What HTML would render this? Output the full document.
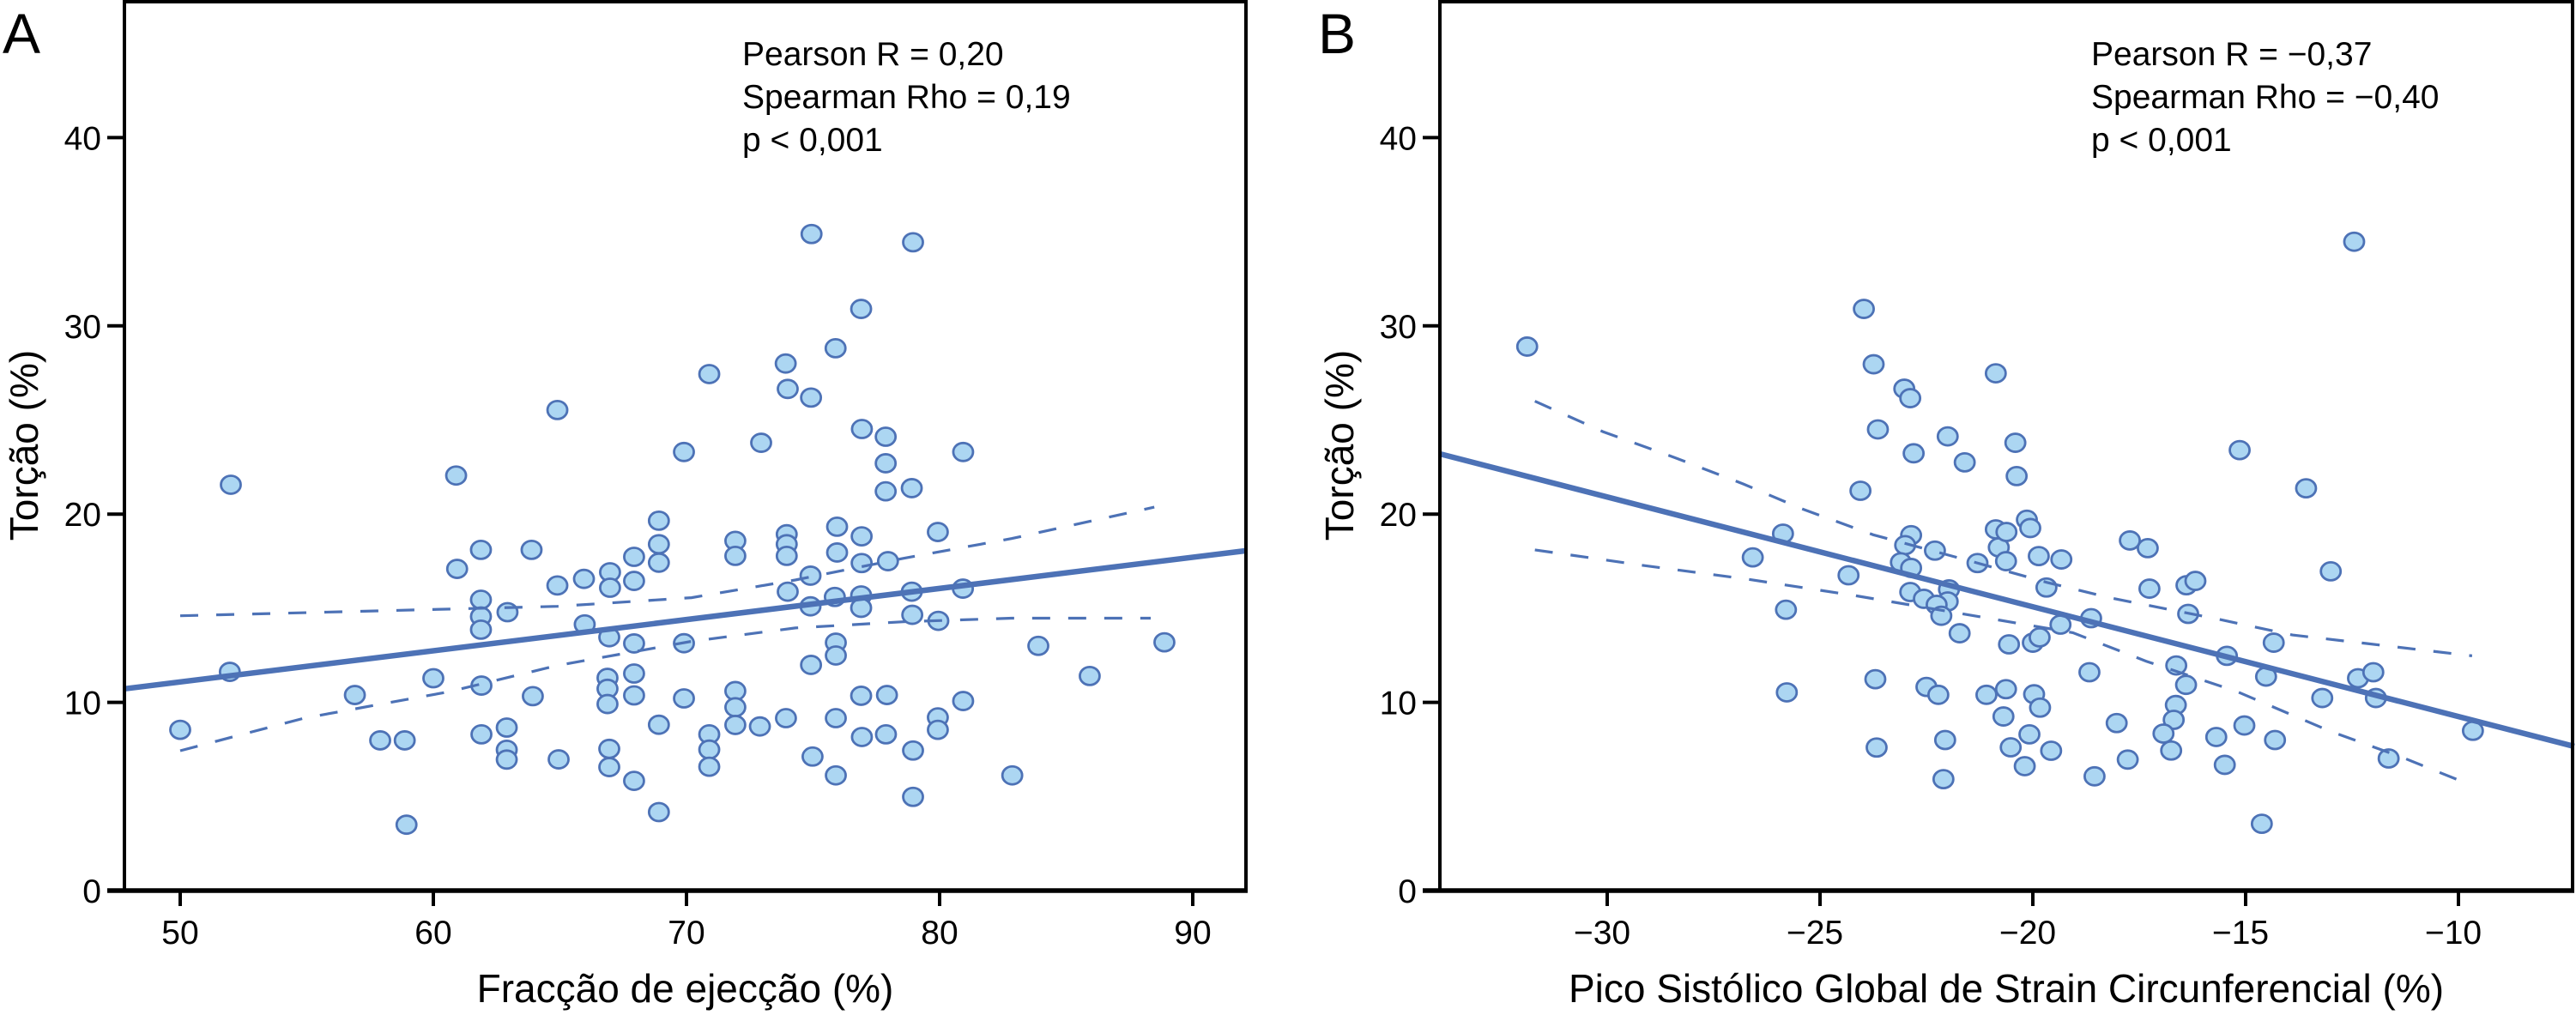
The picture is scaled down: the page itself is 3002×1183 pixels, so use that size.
<!DOCTYPE html>
<html><head><meta charset="utf-8">
<style>
html,body{margin:0;padding:0;background:#fff;}
svg{display:block;font-family:"Liberation Sans",Arial,sans-serif;}
</style></head>
<body>
<svg id="chart" width="3002" height="1183" viewBox="0 0 3002 1183" xmlns="http://www.w3.org/2000/svg">
<rect width="3002" height="1183" fill="#fff"/>
<g id="panelA"></g>
<g id="panelB"></g>
</svg>
<script>
// ---- Panel A data: Fracção de ejecção vs Torção ----
const aEF = [52,64.9,60.9,69.9,51.96,50,56.9,57.9,58.87,58.94,60,60.94,61.88,61.88,61.88,61.88,61.9,61.9,62.93,62.9,62.9,62.9,63.88,63.93,64.9,64.95,65.95,65.98,66.98,66.98,66.95,66.88,66.88,66.88,66.95,66.95,67.93,67.93,67.93,67.93,67.93,67.93,68.91,68.91,68.91,68.91,68.91,69.9,69.9,
74.94,78.95,76.9,75.89,73.92,74.0,74.92,70.9,72.95,76.93,77.87,77.87,77.87,78.9,80.93,71.93,71.93,73.96,73.96,73.96,75.95,75.95,76.92,76.92,77.96,79.93,74.9,74.0,75.86,74.9,76.9,76.9,78.9,80.92,78.92,79.95,75.9,75.9,74.92,83.9,88.88,85.93,71.93,71.93,71.93,72.9,70.9,70.9,70.9,73.93,75.9,76.9,77.92,80.93,79.93,79.93,76.93,77.88,78.95,74.98,75.9,82.87,78.95];
const aTorsion = [21.56,25.53,22.05,23.3,11.62,8.54,10.39,7.98,7.98,3.5,11.28,17.09,18.1,15.45,14.56,13.86,10.89,8.3,14.79,8.66,7.48,6.96,18.1,10.33,16.21,6.97,16.56,14.14,16.91,16.09,13.46,11.3,10.72,9.91,7.53,6.56,17.73,16.45,13.13,11.53,10.37,5.83,19.65,18.4,17.42,8.81,4.17,13.14,10.21,
34.88,34.44,30.9,28.81,28.0,26.65,26.19,27.44,23.79,24.52,24.11,22.7,21.21,21.38,23.3,18.58,17.78,18.93,18.4,17.78,19.33,17.96,18.82,17.4,17.5,19.05,16.73,15.88,15.6,15.1,15.68,15.02,15.88,16.04,14.65,14.33,13.17,12.49,11.99,13.0,13.19,11.4,10.6,9.74,8.8,8.72,8.3,7.49,6.58,9.16,9.16,10.35,10.39,10.07,9.2,8.54,8.16,8.3,7.44,7.12,6.12,6.12,4.98];
const aFitX = [47.8, 92.07];
const aFitY = [10.72, 18.05];
const aCIUpperX = [50,57.78,64.9,70.2,74.3,78.56,82.84,88.48];
const aCIUpperY = [14.6,14.86,15.1,15.56,16.5,17.65,18.7,20.37];
const aCILowerX = [50,54.9,60.64,64.9,70.2,74.3,78.56,82.84,88.34];
const aCILowerY = [7.43,9.16,10.57,11.96,13.24,13.95,14.28,14.47,14.47];
const aXTicks = [50,60,70,80,90];
const aXTickLabels = ["50","60","70","80","90"];
const yTicks = [0,10,20,30,40];
const yTickLabels = ["0","10","20","30","40"];
const aStats = ["Pearson R = 0,20","Spearman Rho = 0,19","p < 0,001"];

// ---- Panel B data: Strain circunferencial vs Torção ----
const bStrain = [-31.88,-23.97,-23.74,-23.02,-22.88,-23.64,-22.0,-22.8,-21.6,-20.87,-24.05,-25.87,-26.58,-22.86,-23.0,-22.3,-23.1,-22.86,-24.33,-20.87,-20.8,-21.3,-21.97,-22.0,-22.88,-22.56,-22.26,-22.15,-21.72,-25.8,-23.7,-25.78,-22.5,-22.22,-21.09,-23.67,-22.06,-22.1,
-12.45,-20.41,-20.38,-15.14,-13.58,-20.14,-20.06,-20.62,-20.63,-17.72,-17.3,-19.86,-19.33,-13.0,-19.68,-17.26,-16.39,-16.18,-16.35,-18.63,-19.35,-20.56,-20.0,-19.84,-14.34,-15.44,-16.63,-14.52,-12.36,-12.0,-11.94,-13.2,-18.67,-20.63,-19.97,-19.83,-16.4,-16.64,-16.69,-20.69,-18.03,-16.93,-16.75,-20.08,-20.52,-19.57,-20.19,-15.69,-15.03,-14.31,-15.49,-17.77,-18.55,-14.62,-11.64,-9.66];
const bTorsion = [28.9,30.9,27.96,26.66,26.16,24.5,24.13,23.23,22.75,27.48,21.24,18.96,17.7,18.88,18.35,18.06,17.44,17.14,16.75,19.19,18.23,17.4,16.0,15.36,15.86,15.5,15.18,14.6,13.67,14.92,11.23,10.53,10.82,10.4,10.4,7.6,8.0,5.92,
34.47,23.79,22.02,23.4,21.37,19.7,19.26,19.05,17.5,18.6,18.19,17.77,17.59,16.96,16.1,16.04,16.22,16.45,14.7,14.47,14.13,13.08,13.17,13.45,13.17,12.47,11.96,11.37,11.28,11.6,10.23,10.23,11.6,10.7,10.43,9.72,10.93,9.86,9.07,9.25,8.9,8.34,7.44,8.3,7.61,7.43,6.61,8.16,8.77,8.0,6.68,6.96,6.07,3.55,7.02,8.49];
const bFitX = [-33.93, -7.28];
const bFitY = [23.2, 7.66];
const bCIUpperX = [-31.7,-30.1,-28.4,-26.8,-25.45,-23.75,-21.46,-19.67,-18.2,-15.6,-13.9,-12.18,-9.68];
const bCIUpperY = [26.0,24.38,22.99,21.6,20.3,18.9,17.5,16.37,15.56,14.4,13.58,13.13,12.47];
const bCILowerX = [-31.7,-29.2,-26.7,-24.2,-21.7,-19.06,-17.34,-15.2,-13.03,-11.3,-9.66];
const bCILowerY = [18.1,17.29,16.54,15.68,14.72,13.7,12.19,10.57,8.48,7.06,5.56];
const bXTicks = [-30,-25,-20,-15,-10];
const bXTickLabels = ["\u221230","\u221225","\u221220","\u221215","\u221210"];
const bStats = ["Pearson R = \u22120,37","Spearman Rho = \u22120,40","p < 0,001"];

const NS = "http://www.w3.org/2000/svg";
const BLUE = "#4d72b6";
const FILL = "#acd6f2";

function mk(tag, attrs, parent){
  const e = document.createElementNS(NS, tag);
  for (const k in attrs) e.setAttribute(k, attrs[k]);
  parent.appendChild(e);
  return e;
}
function yScale(v){ return 1038 - v * 21.94; }

function drawPanel(g, o){
  const xs = v => o.x0 + (v - o.t0) * o.ppu;
  for (let i = 0; i < o.px.length; i++){
    const c = mk("ellipse", {cx: xs(o.px[i]), cy: yScale(o.py[i]), rx: 11.5, ry: 10.5, fill: FILL, stroke: BLUE, "stroke-width": 2.8}, g);
    
    
  }
  const pathFrom = (X, Y) => X.map((v, i) => (i ? "L" : "M") + xs(v).toFixed(1) + " " + yScale(Y[i]).toFixed(1)).join(" ");
  const up = mk("path", {d: pathFrom(o.ux, o.uy), fill: "none", stroke: BLUE, "stroke-width": 3.2, "stroke-dasharray": "21 21"}, g);
  
  
  const lo = mk("path", {d: pathFrom(o.lx, o.ly), fill: "none", stroke: BLUE, "stroke-width": 3.2, "stroke-dasharray": "21 21"}, g);
  
  
  const fit = mk("line", {x1: xs(o.fx[0]), y1: yScale(o.fy[0]), x2: xs(o.fx[1]), y2: yScale(o.fy[1]), stroke: BLUE, "stroke-width": 6.5}, g);
  
  
  const fr = mk("rect", {x: o.left, y: 2, width: o.right - o.left, height: 1036, fill: "none", stroke: "#000", "stroke-width": 4}, g);
  
  
  const xa = mk("line", {x1: o.left - 20, y1: 1038, x2: o.right + 2, y2: 1038, stroke: "#000", "stroke-width": 5.5}, g);
  
  
  yTicks.forEach((v, i) => {
    const y = yScale(v);
    const t = mk("line", {x1: o.left - 20, y1: y, x2: o.left, y2: y, stroke: "#000", "stroke-width": 4}, g);
    
    
    const l = mk("text", {x: o.left - 27, y: y + 14, "font-size": 39, "text-anchor": "end", fill: "#000"}, g);
    l.textContent = yTickLabels[i];
    
    
  });
  o.xt.forEach((v, i) => {
    const x = xs(v);
    const t = mk("line", {x1: x, y1: 1038, x2: x, y2: 1056, stroke: "#000", "stroke-width": 4}, g);
    
    
    const l = mk("text", {x: x - (o.neg ? 6 : 0), y: 1100, "font-size": 39, "text-anchor": "middle", fill: "#000"}, g);
    l.textContent = o.xtl[i];
    
    
  });
  const xt = mk("text", {x: (o.left + o.right) / 2, y: 1168, "font-size": 46, "text-anchor": "middle", fill: "#000"}, g);
  xt.textContent = o.xTitle;
  
  
  const yt = mk("text", {x: 0, y: 0, "font-size": 46, "text-anchor": "middle", fill: "#000", transform: "translate(" + (o.left - 101) + ",519) rotate(-90)"}, g);
  yt.textContent = "Torção (%)";
  
  
  o.stats.forEach((s, i) => {
    const t = mk("text", {x: o.statX, y: 76 + i * 50, "font-size": 39, fill: "#000"}, g);
    t.textContent = s;
    
    
  });
  const pl = mk("text", {x: o.left - 142, y: 62, "font-size": 66, fill: "#000"}, g);
  pl.textContent = o.letter;
  
  
}

drawPanel(document.getElementById("panelA"), {
  left: 145, right: 1452, x0: 210, t0: 50, ppu: 29.5,
  px: aEF, py: aTorsion, fx: aFitX, fy: aFitY,
  ux: aCIUpperX, uy: aCIUpperY, lx: aCILowerX, ly: aCILowerY,
  xt: aXTicks, xtl: aXTickLabels, neg: false,
  xTitle: "Fracção de ejecção (%)", stats: aStats, statX: 865, letter: "A"
});
drawPanel(document.getElementById("panelB"), {
  left: 1678, right: 2998, x0: 1873, t0: -30, ppu: 49.6,
  px: bStrain, py: bTorsion, fx: bFitX, fy: bFitY,
  ux: bCIUpperX, uy: bCIUpperY, lx: bCILowerX, ly: bCILowerY,
  xt: bXTicks, xtl: bXTickLabels, neg: true,
  xTitle: "Pico Sistólico Global de Strain Circunferencial (%)", stats: bStats, statX: 2437, letter: "B"
});
</script>
</body></html>
